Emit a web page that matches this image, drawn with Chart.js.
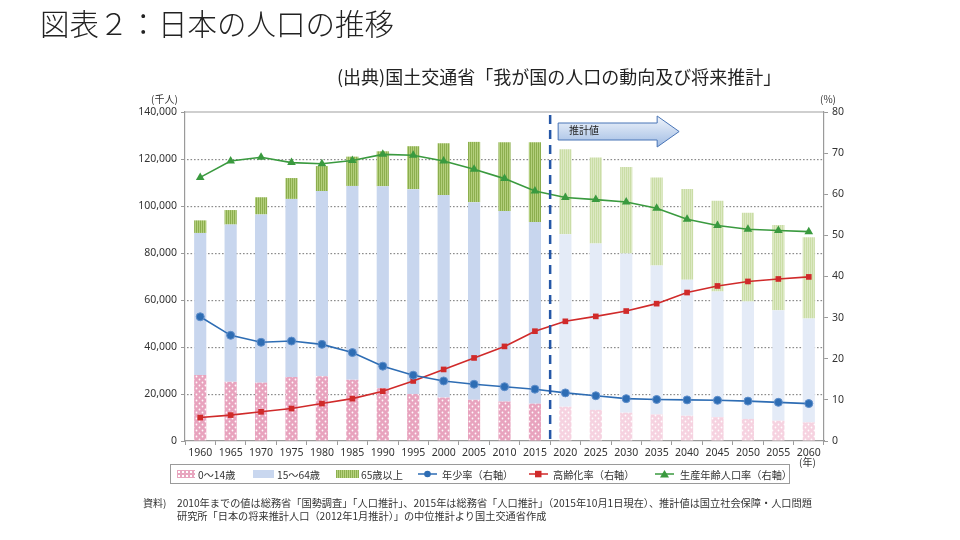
<!DOCTYPE html>
<html><head><meta charset="utf-8">
<script src="https://cdn.jsdelivr.net/npm/chart.js@4.4.0/dist/chart.umd.min.js"></script>
<style>
html,body{margin:0;padding:0;background:#fff;}
#wrap{position:relative;width:960px;height:540px;overflow:hidden;font-family:"Noto Sans CJK JP","Noto Sans",sans-serif;color:#222;}
#c{position:absolute;left:0;top:0;}
.t{position:absolute;white-space:nowrap;line-height:1;}
#legend{position:absolute;left:170px;top:464px;width:620px;height:20px;border:1px solid #9a9a9a;box-sizing:border-box;font-size:10.2px;color:#333;}
#legend .it{position:absolute;top:4px;line-height:11px;white-space:nowrap;}
.sw{position:absolute;top:5px;height:8px;}
.mk{position:absolute;top:3px;width:19px;height:12px;}
</style></head>
<body><div id="wrap">
<canvas id="c" width="960" height="540"></canvas>
<div class="t" style="left:40px;top:8px;font-size:29.5px;font-weight:300;color:#222;">図表２：日本の人口の推移</div>
<div class="t" style="left:337px;top:67px;font-size:18px;color:#222;">(出典)国土交通省「我が国の人口の動向及び将来推計」</div>
<div class="t" style="left:151px;top:94px;font-size:10px;color:#333;">(千人)</div>
<div class="t" style="left:820px;top:94px;font-size:10px;color:#333;">(%)</div>
<div class="t" style="left:799px;top:457px;font-size:10px;color:#333;">(年)</div>
<div class="t" id="est" style="left:569px;top:125px;font-size:10px;color:#222;">推計値</div>
<div id="legend">
  <div class="sw" style="left:6px;width:18px;background-color:#e8a6bf;background-image:radial-gradient(circle,#fff 0.9px,transparent 1.3px);background-size:4px 4px;"></div>
  <div class="it" style="left:27px;">0〜14歳</div>
  <div class="sw" style="left:82px;width:21px;background:#c9d7ef;"></div>
  <div class="it" style="left:106px;">15〜64歳</div>
  <div class="sw" style="left:165px;width:23px;background:repeating-linear-gradient(90deg,#8caf4f 0 1px,#b7d27f 1px 2px);"></div>
  <div class="it" style="left:190px;">65歳以上</div>
  <svg class="mk" style="left:247px" viewBox="0 0 19 12"><line x1="0" y1="6" x2="19" y2="6" stroke="#2e6db4" stroke-width="1.5"/><circle cx="9.5" cy="6" r="3.3" fill="#2e6db4"/></svg>
  <div class="it" style="left:271px;">年少率（右軸）</div>
  <svg class="mk" style="left:358px" viewBox="0 0 19 12"><line x1="0" y1="6" x2="19" y2="6" stroke="#d02a2a" stroke-width="1.5"/><rect x="6" y="2.8" width="6.5" height="6.5" fill="#d02a2a"/></svg>
  <div class="it" style="left:382px;">高齢化率（右軸）</div>
  <svg class="mk" style="left:484px" viewBox="0 0 19 12"><line x1="0" y1="6" x2="19" y2="6" stroke="#3a9a3f" stroke-width="1.5"/><polygon points="9.5,2 14,9.5 5,9.5" fill="#3a9a3f"/></svg>
  <div class="it" style="left:509px;">生産年齢人口率（右軸）</div>
</div>
<div class="t" style="left:143px;top:498px;font-size:10px;color:#333;">資料)</div>
<div class="t" style="left:177px;top:498px;font-size:10.2px;color:#333;">2010年までの値は総務省「国勢調査」「人口推計」、2015年は総務省「人口推計」（2015年10月1日現在）、推計値は国立社会保障・人口問題</div>
<div class="t" style="left:177px;top:511px;font-size:10.2px;color:#333;">研究所「日本の将来推計人口（2012年1月推計）」の中位推計より国土交通省作成</div>
</div>
<script>
// ---- data ----
const years = ['1960','1965','1970','1975','1980','1985','1990','1995','2000','2005','2010','2015','2020','2025','2030','2035','2040','2045','2050','2055','2060'];
const projectionStartIndex = 12;
const age0to14 = [28067,25166,24823,27221,27507,26033,22486,20014,18472,17521,16803,15887,14568,13240,12039,11287,10732,10116,9387,8614,7912];
const age15to64 = [60469,66928,71566,75807,78835,82506,85904,87165,86220,84092,81032,77282,73408,70845,67730,63430,57866,53531,50013,47063,44183];
const age65plus = [5350,6181,7331,8865,10647,12468,14895,18261,22005,25672,29246,33952,36124,36573,36849,37407,38678,38564,37676,36257,34642];
const youthRate = [30.2,25.7,24.0,24.3,23.5,21.5,18.2,16.0,14.6,13.8,13.2,12.6,11.7,11.0,10.3,10.1,10.0,9.9,9.7,9.4,9.1];
const agingRate = [5.7,6.3,7.1,7.9,9.1,10.3,12.1,14.6,17.4,20.2,23.0,26.7,29.1,30.3,31.6,33.4,36.1,37.7,38.8,39.4,39.9];
const workingRate = [64.1,68.1,69.0,67.7,67.4,68.2,69.7,69.5,68.1,66.1,63.8,60.8,59.2,58.7,58.1,56.6,53.9,52.4,51.5,51.2,50.9];
const leftTicksMax = 140000, leftStep = 20000, rightMax = 80, rightStep = 10;

// ---- patterns ----
function dotPattern(bg){
  const c=document.createElement('canvas');c.width=6;c.height=6;const x=c.getContext('2d');
  x.fillStyle=bg;x.fillRect(0,0,6,6);x.fillStyle='rgba(255,255,255,0.95)';
  x.beginPath();x.arc(1.5,1.5,0.9,0,Math.PI*2);x.fill();
  x.beginPath();x.arc(4.5,4.5,0.9,0,Math.PI*2);x.fill();
  return x.createPattern(c,'repeat');
}
function stripePattern(bg,line){
  const c=document.createElement('canvas');c.width=2;c.height=2;const x=c.getContext('2d');
  x.fillStyle=bg;x.fillRect(0,0,2,2);x.fillStyle=line;x.fillRect(0,0,1,2);
  return x.createPattern(c,'repeat');
}
const pinkH=dotPattern('#e8a3be'), pinkP=dotPattern('#f6d2e0');
const greenH=stripePattern('#b3cf7c','#8cae4e'), greenP=stripePattern('#dde9c4','#cadda6');
const blueH='#c8d6ee', blueP='#e4ebf7';
const pick=(h,p)=>years.map((_,i)=>i<projectionStartIndex?h:p);

const fontTick={family:'"Noto Sans","DejaVu Sans",sans-serif',size:10.5};

const gridPlugin={
  id:'dotgrid',
  beforeDatasetsDraw(chart){
    const ctx=chart.ctx, a=chart.chartArea, y=chart.scales.y;
    ctx.save();
    ctx.fillStyle='#8c8c8c';
    for(let v=leftStep; v<leftTicksMax; v+=leftStep){
      const py=Math.round(y.getPixelForValue(v));
      for(let px=Math.ceil(a.left)+2; px<a.right-1; px+=3.5){
        ctx.fillRect(px,py,1.6,1.2);
      }
    }
    ctx.restore();
  }
};

const overlay={
  id:'overlay',
  afterDatasetsDraw(chart){
    const {ctx,chartArea:a,scales:{x}}=chart;
    const xd=(x.getPixelForValue(projectionStartIndex-1)+x.getPixelForValue(projectionStartIndex))/2;
    ctx.save();
    ctx.strokeStyle='#2557a7';ctx.lineWidth=2.5;ctx.setLineDash([9,6]);
    ctx.beginPath();ctx.moveTo(xd,a.top+3);ctx.lineTo(xd,a.bottom);ctx.stroke();
    ctx.setLineDash([]);
    ctx.strokeStyle='#a0a0a0';ctx.lineWidth=1.2;
    ctx.beginPath();ctx.moveTo(a.left,a.top);ctx.lineTo(a.right,a.top);ctx.stroke();
    const x0=xd+8,x1=x0+99,x2=x0+121,yc=a.top+19.5;
    const g=ctx.createLinearGradient(0,yc-16,0,yc+16);
    g.addColorStop(0,'#f2f6fc');g.addColorStop(1,'#9fbbe3');
    ctx.beginPath();
    ctx.moveTo(x0,yc-8.5);ctx.lineTo(x1,yc-8.5);ctx.lineTo(x1,yc-15.5);ctx.lineTo(x2,yc);
    ctx.lineTo(x1,yc+15.5);ctx.lineTo(x1,yc+8.5);ctx.lineTo(x0,yc+8.5);ctx.closePath();
    ctx.fillStyle=g;ctx.fill();ctx.strokeStyle='#4874b6';ctx.lineWidth=1;ctx.stroke();
    ctx.restore();
  }
};

new Chart(document.getElementById('c'),{
  data:{
    labels:years,
    datasets:[
      {type:'line',label:'年少率（右軸）',data:youthRate,yAxisID:'y1',borderColor:'#2e6db4',backgroundColor:'#2e6db4',borderWidth:1.6,pointStyle:'circle',pointRadius:4,pointBorderColor:'#5f8fcc',pointBorderWidth:1,tension:0,order:0},
      {type:'line',label:'高齢化率（右軸）',data:agingRate,yAxisID:'y1',borderColor:'#d02a2a',backgroundColor:'#d02a2a',borderWidth:1.6,pointStyle:'rect',pointRadius:4,pointBorderWidth:0,tension:0,order:0},
      {type:'line',label:'生産年齢人口率（右軸）',data:workingRate,yAxisID:'y1',borderColor:'#3a9a3f',backgroundColor:'#3a9a3f',borderWidth:1.6,pointStyle:'triangle',pointRadius:5,pointBorderWidth:0,tension:0,order:0},
      {type:'bar',label:'0〜14歳',data:age0to14,backgroundColor:pick(pinkH,pinkP),stack:'p',yAxisID:'y',order:1},
      {type:'bar',label:'15〜64歳',data:age15to64,backgroundColor:pick(blueH,blueP),stack:'p',yAxisID:'y',order:1},
      {type:'bar',label:'65歳以上',data:age65plus,backgroundColor:pick(greenH,greenP),stack:'p',yAxisID:'y',order:1}
    ]
  },
  options:{
    responsive:false,animation:false,
    layout:{padding:{left:130,right:96,top:112,bottom:75}},
    datasets:{bar:{barPercentage:0.4,categoryPercentage:1.0,borderWidth:0}},
    plugins:{legend:{display:false},tooltip:{enabled:false},title:{display:false}},
    scales:{
      x:{stacked:true,offset:true,
        grid:{display:true,offset:true,drawOnChartArea:false,drawTicks:true,tickLength:4,tickColor:'#9a9a9a'},
        border:{display:true,color:'#9a9a9a',width:1.2},
        ticks:{font:fontTick,color:'#333',padding:2,maxRotation:0,autoSkip:false},
        afterFit(s){s.height=24;}
      },
      y:{stacked:true,position:'left',min:0,max:leftTicksMax,
        ticks:{stepSize:leftStep,font:fontTick,color:'#333',padding:4,callback:v=>v.toLocaleString('en-US')},
        grid:{drawOnChartArea:false,drawTicks:true,tickLength:4,tickColor:'#9a9a9a'},
        border:{display:true,color:'#9a9a9a',width:1.2},
        afterFit(s){s.width=55;}
      },
      y1:{position:'right',min:0,max:rightMax,
        ticks:{stepSize:rightStep,font:fontTick,color:'#333',padding:4},
        grid:{drawOnChartArea:false,drawTicks:true,tickLength:4,tickColor:'#9a9a9a'},
        border:{display:true,color:'#9a9a9a',width:1.2},
        afterFit(s){s.width=40;}
      }
    }
  },
  plugins:[gridPlugin,overlay]
});
</script>
</body></html>
